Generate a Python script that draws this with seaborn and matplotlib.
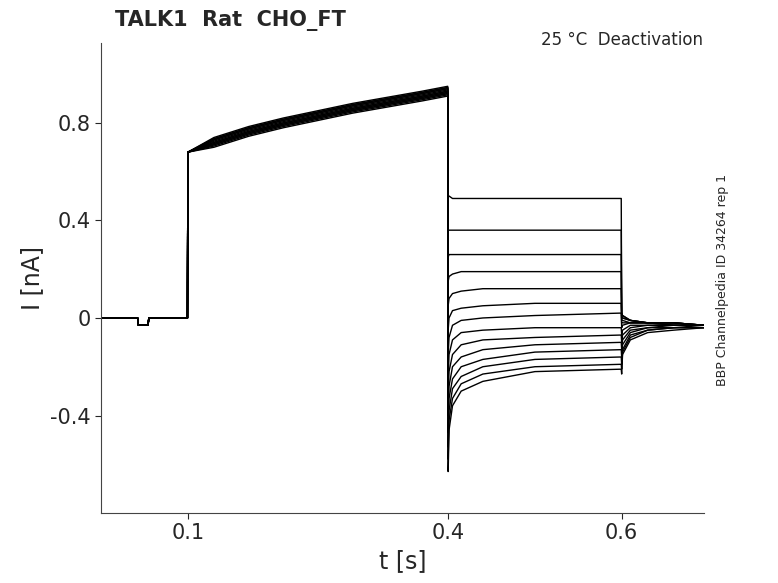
import numpy as np
import pandas as pd
import matplotlib
matplotlib.use("Agg")
import matplotlib.pyplot as plt
import seaborn as sns

# activation phase (shared shape), small per-sweep offsets
t_pre = [0.0, 0.042, 0.043, 0.054, 0.055, 0.0995, 0.1, 0.13, 0.17, 0.21, 0.25, 0.29, 0.33, 0.37, 0.3995]
i_pre = [0.0, 0.0, -0.03, -0.03, 0.0, 0.0, 0.68, 0.72, 0.765, 0.80, 0.83, 0.86, 0.885, 0.91, 0.93]
pre_offset = [0.01, -0.01, 0.0, 0.015, -0.015, 0.005, -0.005, 0.02, -0.02, 0.01, 0.0, -0.01, 0.015, -0.005]

# deactivation step
t_deact = [0.4, 0.401, 0.405, 0.415, 0.44, 0.5, 0.5995]
i_deact = [
    [0.50, 0.50, 0.49, 0.49, 0.49, 0.49, 0.49],
    [0.36, 0.36, 0.36, 0.36, 0.36, 0.36, 0.36],
    [0.25, 0.26, 0.26, 0.26, 0.26, 0.26, 0.26],
    [0.15, 0.17, 0.18, 0.19, 0.19, 0.19, 0.19],
    [0.05, 0.08, 0.10, 0.11, 0.12, 0.12, 0.12],
    [-0.05, 0.0, 0.03, 0.04, 0.05, 0.06, 0.06],
    [-0.15, -0.08, -0.03, -0.01, 0.0, 0.01, 0.02],
    [-0.25, -0.15, -0.09, -0.06, -0.05, -0.04, -0.04],
    [-0.33, -0.22, -0.15, -0.11, -0.09, -0.08, -0.07],
    [-0.40, -0.28, -0.20, -0.16, -0.13, -0.11, -0.10],
    [-0.47, -0.33, -0.25, -0.20, -0.17, -0.14, -0.13],
    [-0.53, -0.38, -0.29, -0.24, -0.20, -0.17, -0.16],
    [-0.58, -0.42, -0.33, -0.27, -0.23, -0.20, -0.19],
    [-0.63, -0.46, -0.36, -0.30, -0.26, -0.22, -0.21],
]

# tail after returning at 0.6 s
t_tail = [0.6, 0.601, 0.61, 0.63, 0.66, 0.695]
i_tail = [
    [0.02, 0.01, -0.01, -0.02, -0.02, -0.03],
    [0.02, 0.01, -0.01, -0.02, -0.02, -0.03],
    [0.01, 0.0, -0.01, -0.02, -0.02, -0.03],
    [0.0, 0.0, -0.01, -0.02, -0.02, -0.03],
    [-0.01, -0.01, -0.02, -0.02, -0.02, -0.03],
    [-0.02, -0.02, -0.02, -0.02, -0.03, -0.03],
    [-0.04, -0.03, -0.02, -0.02, -0.03, -0.03],
    [-0.07, -0.05, -0.03, -0.03, -0.03, -0.03],
    [-0.10, -0.07, -0.04, -0.03, -0.03, -0.03],
    [-0.13, -0.09, -0.05, -0.04, -0.03, -0.03],
    [-0.16, -0.11, -0.06, -0.04, -0.04, -0.03],
    [-0.19, -0.13, -0.07, -0.05, -0.04, -0.04],
    [-0.21, -0.14, -0.08, -0.05, -0.04, -0.04],
    [-0.23, -0.15, -0.09, -0.06, -0.05, -0.04],
]

rows = []
for k in range(len(i_deact)):
    t = t_pre + t_deact + t_tail
    i = [v + (pre_offset[k] * (j >= 7)) for j, v in enumerate(i_pre)] + i_deact[k] + i_tail[k]
    for tt, ii in zip(t, i):
        rows.append((k, tt, ii))
df = pd.DataFrame(rows, columns=["sweep", "t", "I"])

sns.set_style("white")
fig = plt.figure(figsize=(7.78, 5.83), dpi=100)
ax = fig.add_axes([0.13, 0.12, 0.775, 0.806])
sns.lineplot(data=df, x="t", y="I", units="sweep", estimator=None, sort=False,
             color="black", lw=1.0, ax=ax)

ax.set_xlim(0.0, 0.695)
ax.set_ylim(-0.8, 1.127)
ax.set_xticks([0.1, 0.4, 0.6])
ax.set_xticklabels(["0.1", "0.4", "0.6"])
ax.set_yticks([-0.4, 0, 0.4, 0.8])
ax.set_yticklabels(["-0.4", "0", "0.4", "0.8"])
ax.tick_params(labelsize=15, direction="out", length=4, left=True, bottom=True)
ax.set_xlabel("t [s]", fontsize=17)
ax.set_ylabel("I [nA]", fontsize=17)
sns.despine(ax=ax)
for s in ["left", "bottom"]:
    ax.spines[s].set_color("#444444")
    ax.spines[s].set_linewidth(0.8)

fig.text(0.148, 0.955, "TALK1  Rat  CHO_FT", fontsize=15, fontweight="bold")
fig.text(0.903, 0.923, "25 °C  Deactivation", fontsize=12, ha="right")
fig.text(0.92, 0.52, "BBP Channelpedia ID 34264 rep 1", fontsize=9, rotation=90, va="center")

fig.savefig("out.png", dpi=100)
